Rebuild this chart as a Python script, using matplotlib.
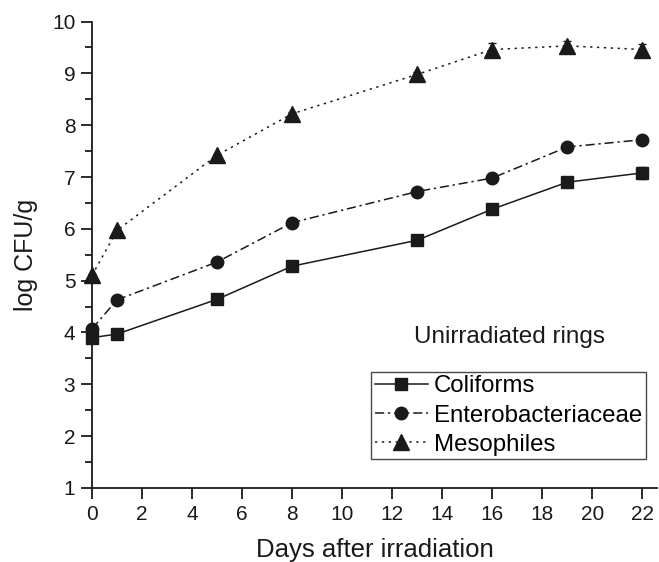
import matplotlib
matplotlib.use('Agg')
import matplotlib.pyplot as plt
from matplotlib.ticker import MultipleLocator

plt.rcParams['font.family'] = ['Liberation Sans', 'DejaVu Sans']

# Données
days = [0, 1, 5, 8, 13, 16, 19, 22]
coliforms = [3.90, 3.97, 4.64, 5.28, 5.78, 6.38, 6.90, 7.08]
coliforms_err = [0.05, 0.03, 0.03, 0.03, 0.03, 0.05, 0.04, 0.12]
entero = [4.07, 4.63, 5.36, 6.12, 6.72, 6.98, 7.58, 7.72]
entero_err = [0.05, 0.03, 0.03, 0.03, 0.03, 0.04, 0.04, 0.05]
meso = [5.10, 5.97, 7.42, 8.22, 8.98, 9.46, 9.53, 9.46]
meso_err = [0.03, 0.03, 0.03, 0.03, 0.04, 0.12, 0.10, 0.10]
labels = ['Coliforms', 'Enterobacteriaceae', 'Mesophiles']

fig = plt.figure(figsize=(6.59, 5.62), dpi=100)
ax = fig.add_axes([0.1396, 0.1317, 0.858, 0.83])

common = dict(color='#1a1a1a', linewidth=1.1, capsize=3,
              elinewidth=1, ecolor='#1a1a1a', clip_on=False)
c1 = ax.errorbar(days, coliforms, yerr=coliforms_err, marker='s', markersize=8,
                 linestyle='-', **common)
c2 = ax.errorbar(days, entero, yerr=entero_err, marker='o', markersize=9,
                 linestyle=(0, (6, 2.5, 1.5, 2.5)), **common)
c3 = ax.errorbar(days, meso, yerr=meso_err, marker='^', markersize=11,
                 linestyle=(0, (1.5, 3)), **common)

ax.set_xlim(0, 22.6)
ax.set_ylim(1, 10)
ax.xaxis.set_major_locator(MultipleLocator(2))
ax.yaxis.set_major_locator(MultipleLocator(1))
ax.yaxis.set_minor_locator(MultipleLocator(0.5))
ax.spines['top'].set_visible(False)
ax.spines['right'].set_visible(False)
for s in ['left', 'bottom']:
    ax.spines[s].set_linewidth(1.3)
    ax.spines[s].set_color('#1a1a1a')
ax.tick_params(which='major', direction='out', length=8, width=1.3,
               labelsize=15, colors='#1a1a1a', pad=4)
ax.tick_params(which='minor', direction='out', length=5, width=1.3, colors='#1a1a1a')

ax.set_xlabel('Days after irradiation', fontsize=18.5, labelpad=10, color='#1a1a1a')
ax.set_ylabel('log CFU/g', fontsize=18, labelpad=10, color='#1a1a1a')

ax.text(16.7, 3.92, 'Unirradiated rings', fontsize=17.5, ha='center', va='center',
        color='#1a1a1a')

leg = ax.legend([c1[0], c2[0], c3[0]], labels,
                loc='upper left', bbox_to_anchor=(0.494, 0.249), fontsize=17.3,
                frameon=True, fancybox=False, edgecolor='#1a1a1a',
                handlelength=2.2, handletextpad=0.25, borderpad=0.15,
                labelspacing=0.3, borderaxespad=0)
leg.get_frame().set_linewidth(1.0)

fig.savefig('out.png', dpi=100)
